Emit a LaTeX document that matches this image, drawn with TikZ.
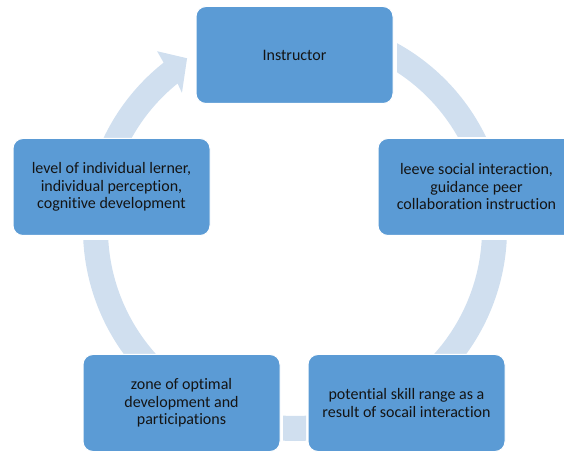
\documentclass[tikz,border=0pt]{standalone}
\usepackage{fontspec}
\setmainfont{Carlito}[Ligatures=NoCommon]
\definecolor{boxblue}{RGB}{91,155,213}
\definecolor{arrowc}{RGB}{208,223,239}
\definecolor{txt}{RGB}{20,20,20}
\tikzset{
  cyclebox/.style={rectangle, rounded corners=10pt, fill=boxblue, draw=white, line width=1pt,
    minimum width=197pt, minimum height=97pt, align=center, text=txt,
    font=\fontsize{16}{17.5}\selectfont, inner sep=2pt},
  band/.style={fill=arrowc}
}
\begin{document}
\begin{tikzpicture}[x=1pt,y=1pt]
\useasboundingbox (0,0) rectangle (564,452);
% arcs
% top -> right
\begin{scope}
\clip (397,315) rectangle (564,452);
\fill[band,shift={(295,223)}] (10:212) arc[start angle=10, end angle=85, radius=212pt] -- (85:187) arc[start angle=85, end angle=10, radius=187pt] -- cycle;
\end{scope}
% right -> bottom right
\begin{scope}
\clip (300,91) rectangle (564,211);
\fill[band,shift={(295,223)}] (-60:212) arc[start angle=-60, end angle=20, radius=212pt] -- (20:187) arc[start angle=20, end angle=-60, radius=187pt] -- cycle;
\end{scope}
% bottom
\begin{scope}
\clip (283,0) rectangle (306,60);
\fill[band,shift={(295,223)}] (-100:212) arc[start angle=-100, end angle=-80, radius=212pt] -- (-80:187) arc[start angle=-80, end angle=-100, radius=187pt] -- cycle;
\end{scope}
% bottom left -> left
\begin{scope}
\clip (0,91) rectangle (290,211);
\fill[band,shift={(295,223)}] (160:212) arc[start angle=160, end angle=240, radius=212pt] -- (240:187) arc[start angle=240, end angle=160, radius=187pt] -- cycle;
\end{scope}
% left -> top (with arrow head)
\begin{scope}
\clip (0,314) rectangle (564,452);
\fill[band,shift={(295,223)}] (165:212) arc[start angle=165, end angle=128.3, radius=212pt] -- (127.8:225) -- (122.3:202) -- (129.7:177) -- (128.9:187) arc[start angle=128.9, end angle=165, radius=187pt] -- cycle;
\end{scope}
% boxes
\node[cyclebox] (top) at (294.5,397) {Instructor};
\node[cyclebox] (right) at (476.5,265) {leeve social interaction,\\guidance peer\\collaboration instruction};
\node[cyclebox] (br) at (406.5,49) {potential skill range as a\\result of socail interaction};
\node[cyclebox] (bl) at (181.5,49) {zone of optimal\\development and\\participations};
\node[cyclebox] (left) at (111.5,265) {level of individual lerner,\\individual perception,\\cognitive development};
\end{tikzpicture}
\end{document}
